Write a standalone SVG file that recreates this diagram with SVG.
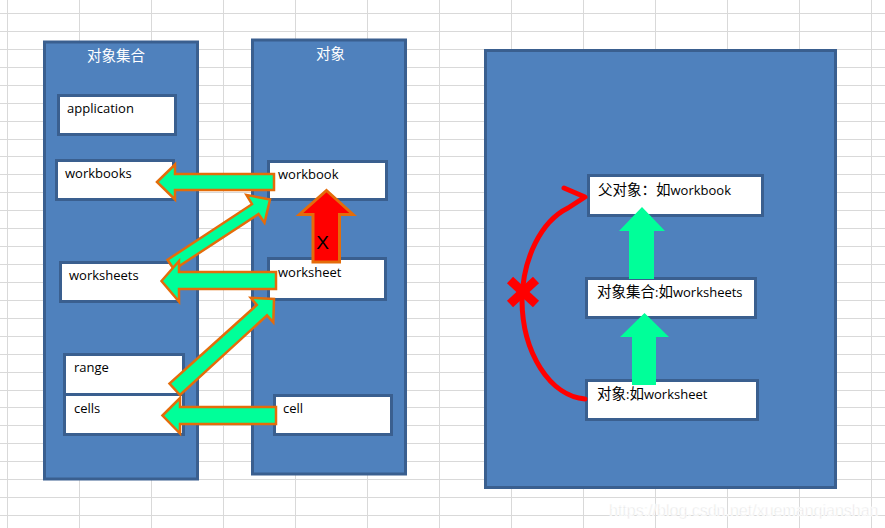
<svg xmlns="http://www.w3.org/2000/svg" width="885" height="528" viewBox="0 0 885 528">
<style>
.grid{stroke:#d9d9d9;stroke-width:1;fill:none}
.panel{fill:#4f81bd;stroke:#3a5f8f;stroke-width:3}
.box{fill:#ffffff;stroke:#3a5f8f;stroke-width:3}
.lbl{font-family:"Open Sans","Noto Sans CJK SC",sans-serif;font-size:13px;fill:#000000}
.cjk{font-family:"Noto Sans CJK SC",sans-serif;font-size:14.5px}
.title{font-family:"Noto Sans CJK SC",sans-serif;font-size:14.5px;fill:#ffffff}
.garrow{fill:#00ff99;stroke:#e46c0a;stroke-width:2.5;stroke-linejoin:miter}
.garrow2{fill:#00ff99;stroke:none}
.rarrow{fill:#ff0000;stroke:#e46c0a;stroke-width:3}
.rline{fill:none;stroke:#ff0000;stroke-width:5;stroke-linecap:round;stroke-linejoin:round}
.rx{stroke:#ff0000;stroke-width:9;stroke-linecap:butt}
.wm{font-family:"Liberation Sans",Arial,sans-serif;font-size:16px;fill:#e4e4e4;stroke:#ffffff;stroke-width:0.6}
</style>
<rect x="0" y="0" width="885" height="528" fill="#ffffff"/>
<path class="grid" d="M7.5 0V528M79.5 0V528M151.5 0V528M223.5 0V528M295.5 0V528M367.5 0V528M439.5 0V528M511.5 0V528M583.5 0V528M655.5 0V528M727.5 0V528M799.5 0V528M871.5 0V528
M0 13.5H885M0 31.5H885M0 49.5H885M0 67.5H885M0 85.5H885M0 103.5H885M0 121.5H885M0 139.5H885M0 156.5H885M0 174.5H885M0 192.5H885M0 210.5H885M0 228.5H885M0 246.5H885M0 264.5H885M0 282.5H885M0 300.5H885M0 318.5H885M0 336.5H885M0 354.5H885M0 372.5H885M0 390.5H885M0 407.5H885M0 425.5H885M0 443.5H885M0 461.5H885M0 479.5H885M0 497.5H885M0 515.5H885"/>

<g id="panel-collections">
<rect class="panel" x="44.5" y="42" width="153" height="437"/>
<text class="title" x="87" y="60.5">对象集合</text>
</g>
<g id="panel-objects">
<rect class="panel" x="252.5" y="40" width="153" height="434"/>
<text class="title" x="316" y="58.5">对象</text>
</g>
<g id="panel-hierarchy">
<rect class="panel" x="485.5" y="50.5" width="350" height="437"/>
</g>

<g id="node-application">
<rect class="box" x="58.5" y="95.5" width="117" height="39"/>
<text class="lbl" x="67" y="113">application</text>
</g>
<g id="node-workbooks">
<rect class="box" x="56.5" y="160.5" width="117" height="39"/>
<text class="lbl" x="65" y="178">workbooks</text>
</g>
<g id="node-worksheets">
<rect class="box" x="60.5" y="262.5" width="118" height="39"/>
<text class="lbl" x="69" y="280">worksheets</text>
</g>
<g id="node-range">
<rect class="box" x="64.5" y="354.5" width="119" height="40"/>
<text class="lbl" x="74" y="372">range</text>
</g>
<g id="node-cells">
<rect class="box" x="64.5" y="394.5" width="119" height="40"/>
<text class="lbl" x="74" y="413">cells</text>
</g>
<g id="node-workbook">
<rect class="box" x="268.5" y="161.5" width="118" height="38"/>
<text class="lbl" x="278" y="179">workbook</text>
</g>
<g id="node-worksheet">
<rect class="box" x="268.5" y="258.5" width="117" height="41"/>
<text class="lbl" x="278" y="277">worksheet</text>
</g>
<g id="node-cell">
<rect class="box" x="274.5" y="395.5" width="117" height="39"/>
<text class="lbl" x="283" y="413">cell</text>
</g>
<g id="node-parent">
<rect class="box" x="588.5" y="175.5" width="174" height="40"/>
<text class="lbl" x="598" y="195"><tspan class="cjk">父对象：如</tspan>workbook</text>
</g>
<g id="node-collection">
<rect class="box" x="586.5" y="278.5" width="169" height="39"/>
<text class="lbl" x="597" y="297"><tspan class="cjk">对象集合</tspan>:<tspan class="cjk">如</tspan>worksheets</text>
</g>
<g id="node-object">
<rect class="box" x="586.5" y="380.5" width="171" height="39"/>
<text class="lbl" x="597" y="399"><tspan class="cjk">对象</tspan>:<tspan class="cjk">如</tspan>worksheet</text>
</g>

<g id="connectors">
<polygon class="garrow" points="157,182 175,164.5 175,174 274,174 274,190 175,190 175,199.5"/>
<polygon class="garrow" points="270,199.5 264.5,222.8 258.5,214 174,269.5 167.5,259.8 252,204.2 246.5,195"/>
<polygon class="garrow" points="161.5,281 179,261 179,272 276,272 276,289 179,289 179,301.5"/>
<polygon class="garrow" points="274,299 273.3,322.3 267,315.3 180,395 169.5,383.5 256.8,305 250.8,297.8"/>
<polygon class="garrow" points="162.5,415.5 180,398 180,407 276,407 276,424 180,424 180,433.5"/>
<polygon class="rarrow" points="326.5,190.5 353,214.5 339.5,214.5 339.5,262 313,262 313,214.5 299.5,214.5"/>
<text x="322.5" y="249" text-anchor="middle" style="font-family:'Liberation Sans',Arial,sans-serif;font-size:19px;fill:#000000">X</text>
<polygon class="garrow2" points="642,207 665,231 654,231 654,279 629,279 629,231 619,231"/>
<polygon class="garrow2" points="644.5,313 669,337 656,337 656,385 632,385 632,337 620,337"/>
<path class="rline" d="M585 399 A67 100 0 0 1 522 300 A67 100 0 0 1 568 208 L585 197 L564 188"/>
<line class="rx" x1="510" y1="280" x2="536" y2="304"/>
<line class="rx" x1="536" y1="280" x2="510" y2="304"/>
</g>

<text class="wm" x="609" y="516">https://blog.csdn.net/xuemanqianshan</text>
</svg>
